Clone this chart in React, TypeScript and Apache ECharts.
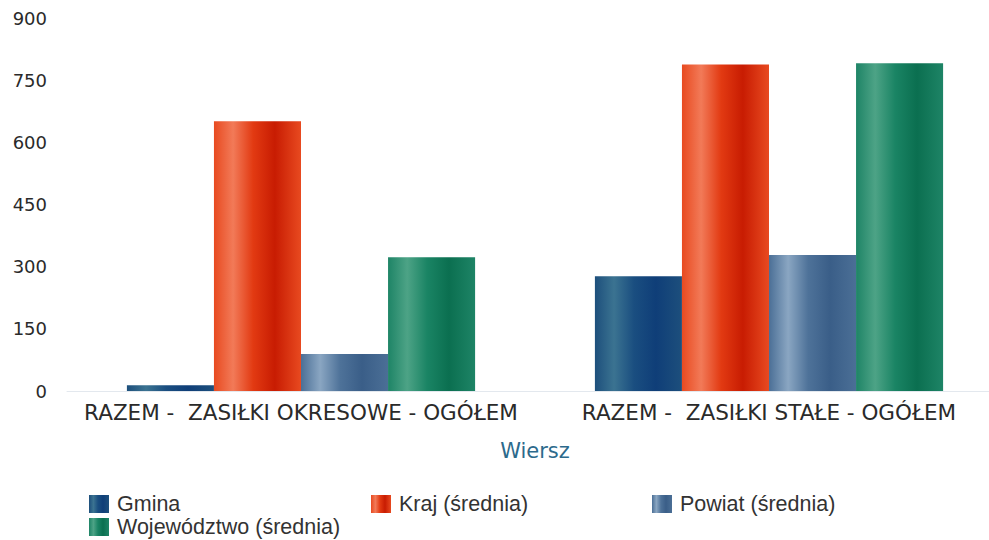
import React, { useEffect, useRef } from "react";
import * as echarts from "echarts";

const categories = ["RAZEM -  ZASIŁKI OKRESOWE - OGÓŁEM", "RAZEM -  ZASIŁKI STAŁE - OGÓŁEM"];
const seriesNames = ["Gmina", "Kraj (średnia)", "Powiat (średnia)", "Województwo (średnia)"];
const gmina = [14, 277];
const kraj = [651, 788];
const powiat = [89, 328];
const wojewodztwo = [323, 791];
const yTicks = { min: 0, max: 900, interval: 150 };

const AXIS_FONT = "'DejaVu Sans', Verdana, sans-serif";
const LEGEND_FONT = "'Liberation Sans', Arial, sans-serif";

function grad(edge: string, light: string, mid: string, dark: string) {
  return new echarts.graphic.LinearGradient(0, 0, 1, 0, [
    { offset: 0, color: edge },
    { offset: 0.22, color: light },
    { offset: 0.45, color: mid },
    { offset: 0.7, color: dark },
    { offset: 1, color: edge },
  ]);
}

const legendPos = [
  { left: 89, top: 493 },
  { left: 371, top: 493 },
  { left: 652, top: 493 },
  { left: 89, top: 516 },
];

export default function App() {
  const ref = useRef<HTMLDivElement>(null);
  useEffect(() => {
    if (!ref.current) return;
    const chart = echarts.init(ref.current, undefined, { renderer: "svg" });
    const colors = [
      grad("#1d4f7c", "#3b7391", "#1a4e80", "#0f3e78"),
      grad("#e84a20", "#f27a58", "#e23a12", "#c81c02"),
      grad("#4b6f96", "#8aa6c2", "#4e7299", "#3a5e88"),
      grad("#1e8466", "#4da386", "#1a8464", "#0b6f50"),
    ];
    const data = [gmina, kraj, powiat, wojewodztwo];
    chart.setOption({
      animation: false,
      backgroundColor: "#fff",
      grid: { left: 67, right: 0, top: 18, bottom: 149 },
      legend: seriesNames.map((name, i) => ({
        data: [name],
        left: legendPos[i].left,
        top: legendPos[i].top,
        padding: 0,
        icon: "rect",
        itemWidth: 20,
        itemHeight: 18,
        textStyle: {
          fontFamily: LEGEND_FONT,
          fontSize: 21.5,
          color: "#333",
          padding: [0, 0, 0, 3],
        },
      })),
      xAxis: {
        type: "category",
        data: categories,
        name: "Wiersz",
        nameLocation: "middle",
        nameGap: 49,
        nameTextStyle: { fontFamily: AXIS_FONT, fontSize: 21, color: "#2c6a8c" },
        axisLine: { show: true, lineStyle: { color: "#e3e8ee", width: 1 } },
        axisTick: { show: false },
        axisLabel: {
          interval: 0,
          fontFamily: AXIS_FONT,
          fontSize: 21.5,
          color: "#2a2a2a",
          margin: 10,
        },
      },
      yAxis: {
        type: "value",
        min: yTicks.min,
        max: yTicks.max,
        interval: yTicks.interval,
        axisLine: { show: false },
        axisTick: { show: false },
        splitLine: { show: false },
        axisLabel: { fontFamily: AXIS_FONT, fontSize: 18, color: "#2a2a2a", margin: 20 },
      },
      series: seriesNames.map((name, i) => ({
        name,
        type: "bar",
        data: data[i],
        barGap: "0%",
        barCategoryGap: "25.6%",
        itemStyle: { color: colors[i] },
      })),
    });
    return () => chart.dispose();
  }, []);
  return (
    <div
      ref={ref}
      style={{ position: "fixed", left: 0, top: 0, width: 1003, height: 540 }}
    />
  );
}
